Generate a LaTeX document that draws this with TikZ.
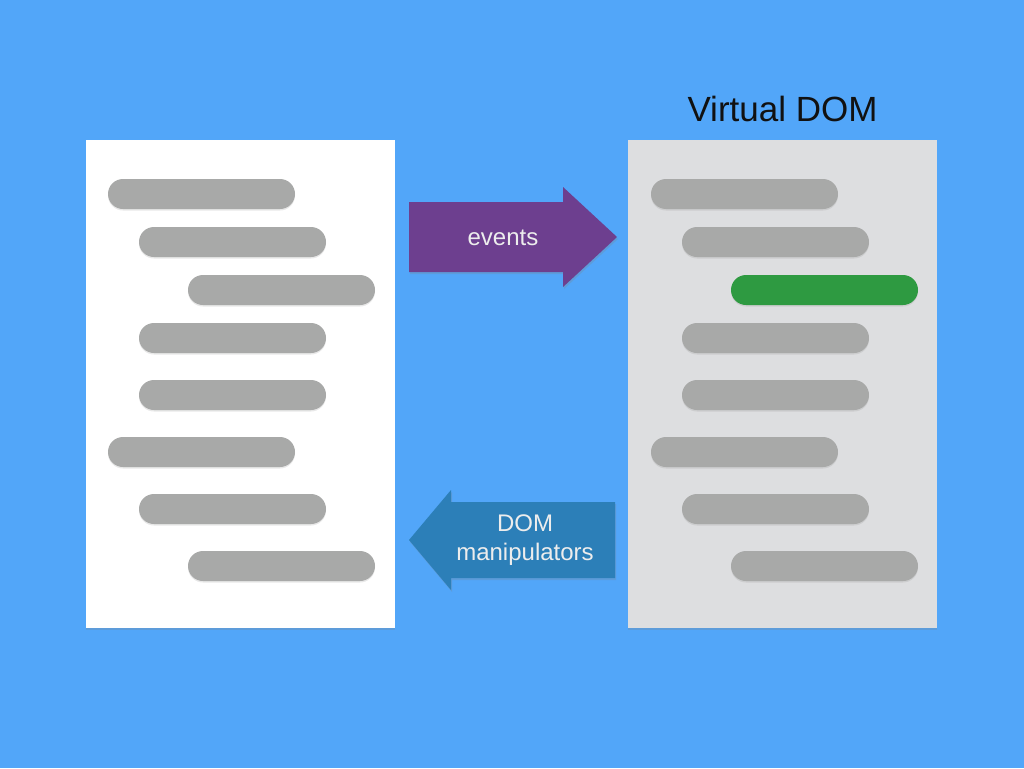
\documentclass[tikz,border=0pt]{standalone}
\usepackage{fontspec}
\setmainfont{Liberation Sans}
\usepackage{xcolor}
\usepackage{tikz}
\usetikzlibrary{positioning,shadows}
\definecolor{vdomSky}{HTML}{52A6F9}
\definecolor{vdomPaper}{HTML}{FFFFFF}
\definecolor{vdomShadow}{HTML}{DDDEE0}
\definecolor{vdomBar}{HTML}{A8A9A8}
\definecolor{vdomGreen}{HTML}{2E9A41}
\definecolor{vdomPurple}{HTML}{6D3F8F}
\definecolor{vdomBlue}{HTML}{2C7FB8}
\definecolor{vdomInk}{HTML}{111111}

\begin{document}
\begin{tikzpicture}[
  x=1pt,y=-1pt,
  page/.style={fill=#1,minimum width=309pt,minimum height=488pt,inner sep=0pt,
    drop shadow={opacity=0.25,shadow xshift=0pt,shadow yshift=-2pt}},
  bar/.style={fill=#1,rounded corners=15pt,minimum width=187pt,minimum height=30pt,inner sep=0pt,
    drop shadow={opacity=0.18,shadow xshift=0pt,shadow yshift=-1.5pt}},
  bar/.default=vdomBar,
  lbl/.style={text=#1,font=\fontsize{24}{29}\selectfont,align=center,inner sep=0pt}
]
  \fill[vdomSky] (0,0) rectangle (1024,768);
  \useasboundingbox (0,0) rectangle (1024,768);

  % the two documents
  \node[page=vdomPaper] (real) at (240.5,384) {};
  \node[page=vdomShadow] (virtual) at (782.5,384) {};
  \node[lbl=vdomInk,font=\fontsize{35}{40}\selectfont,above=18pt of virtual] (vtitle) {Virtual DOM};

  % real DOM lines
  \node[bar] (r1) at (201.5,194) {};
  \node[bar] (r2) at (232.5,242) {};
  \node[bar] (r3) at (281.5,290) {};
  \node[bar] (r4) at (232.5,338) {};
  \node[bar] (r5) at (232.5,395) {};
  \node[bar] (r6) at (201.5,452) {};
  \node[bar] (r7) at (232.5,509) {};
  \node[bar] (r8) at (281.5,566) {};

  % virtual DOM lines
  \node[bar] (v1) at (744.5,194) {};
  \node[bar] (v2) at (775.5,242) {};
  \node[bar=vdomGreen] (v3) at (824.5,290) {};
  \node[bar] (v4) at (775.5,338) {};
  \node[bar] (v5) at (775.5,395) {};
  \node[bar] (v6) at (744.5,452) {};
  \node[bar] (v7) at (775.5,509) {};
  \node[bar] (v8) at (824.5,566) {};

  % events arrow
  \fill[vdomPurple,drop shadow={opacity=0.25,shadow xshift=1pt,shadow yshift=-2pt}]
    (409,202) -- (563,202) -- (563,187) -- (617,237) -- (563,287) -- (563,272) -- (409,272) -- cycle;
  \node[lbl=white!93!black] (events) at (503,238) {events};

  % DOM manipulators arrow
  \fill[vdomBlue,drop shadow={opacity=0.25,shadow xshift=1pt,shadow yshift=-2pt}]
    (615,502) -- (451,502) -- (451,490) -- (409,540) -- (451,590) -- (451,578) -- (615,578) -- cycle;
  \node[lbl=white!93!black] (manip) at (525,540) {DOM\\manipulators};
\end{tikzpicture}
\end{document}
